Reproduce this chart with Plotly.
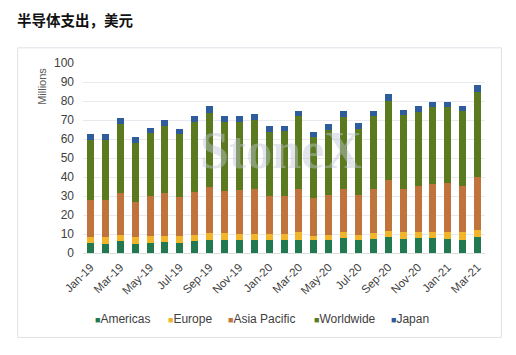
import plotly.graph_objects as go

months = ["Jan-19","Feb-19","Mar-19","Apr-19","May-19","Jun-19","Jul-19","Aug-19","Sep-19",
          "Oct-19","Nov-19","Dec-19","Jan-20","Feb-20","Mar-20","Apr-20","May-20","Jun-20",
          "Jul-20","Aug-20","Sep-20","Oct-20","Nov-20","Dec-20","Jan-21","Feb-21","Mar-21"]

americas = [5.2,4.9,6.1,4.9,5.2,5.8,5.2,6.1,7.0,7.0,6.8,7.0,6.8,6.6,7.0,6.6,6.6,7.7,
            6.6,7.3,8.4,7.3,7.7,7.7,7.3,6.8,8.4]
europe = [3.2,3.3,3.2,3.3,3.5,3.3,3.5,3.2,3.5,3.5,3.2,3.0,3.3,3.4,3.8,2.5,2.8,3.1,
          2.8,3.0,3.1,3.5,3.5,3.5,3.5,4.4,3.5]
asia_pacific = [19.7,19.9,22.5,18.9,21.4,22.4,20.8,23.0,24.5,22.0,22.9,23.6,20.1,20.2,23.1,19.9,21.0,22.9,
                21.0,23.6,27.0,23.1,23.9,25.0,25.9,24.1,28.3]
worldwide = [31.3,31.3,36.0,30.9,32.8,35.3,32.9,36.6,38.6,36.4,36.0,36.2,33.4,33.8,38.1,31.8,34.3,38.0,
             34.8,38.0,41.7,38.5,39.0,40.4,40.0,39.4,44.4]
japan = [3.0,3.0,3.0,3.2,3.0,3.0,3.0,3.0,3.8,3.0,3.0,3.1,3.0,2.8,3.0,3.0,3.1,3.0,
         3.2,3.1,3.5,2.9,3.2,3.1,3.0,2.9,4.0]

tick_labels = months[::2]
y_ticks = list(range(0, 101, 10))

series_names = ["Americas", "Europe", "Asia Pacific", "Worldwide", "Japan"]
series_values = [americas, europe, asia_pacific, worldwide, japan]
colors = ["#22784f", "#f1b52b", "#c0733a", "#5b7a1f", "#2f5d9c"]

# page body has an 8px margin; design in page pixels and convert
OFF = 8
W, H = 500, 339
ML, MR, MT, MB = 74.5, 22.5, 54.7, 93.7
PW, PH = W - ML - MR, H - MT - MB

def px_x(p):
    return (p - OFF - ML) / PW

def px_y(p):
    return (H - MB - (p - OFF)) / PH

fig = go.Figure()
for name, vals, col in zip(series_names, series_values, colors):
    fig.add_trace(go.Bar(x=months, y=vals, name=name, marker=dict(color=col, line=dict(width=0))))

fig.update_layout(
    width=W, height=H,
    barmode="stack", bargap=0.53,
    margin=dict(l=ML, r=MR, t=MT, b=MB, autoexpand=False),
    paper_bgcolor="white", plot_bgcolor="white",
    showlegend=False,
    font=dict(family="Liberation Sans, Arial, sans-serif", color="#404040", size=12),
    title=dict(text="<b>半导体支出，美元</b>", xref="container", yref="container",
               x=(17 - OFF) / W, y=1 - (21 - OFF) / H, xanchor="left", yanchor="middle",
               font=dict(family="Noto Sans CJK SC", size=14.5, color="#111111")),
    xaxis=dict(type="category", tickmode="array", tickvals=tick_labels, ticktext=tick_labels,
               tickangle=-45, ticks="", showgrid=False, showline=True, linecolor="#dcdcdc",
               linewidth=1, ticklabelstandoff=2, tickfont=dict(size=11.5, color="#404040"),
               fixedrange=True),
    yaxis=dict(range=[0, 100], tickmode="array", tickvals=y_ticks, showgrid=True,
               gridcolor="#e8e8ee", gridwidth=1, zeroline=False, showline=False, ticks="",
               ticklabelstandoff=8, tickfont=dict(size=12, color="#404040"), fixedrange=True),
)

# chart panel border
fig.add_shape(type="rect", xref="paper", yref="paper",
              x0=px_x(17), x1=px_x(502), y0=px_y(338), y1=px_y(47.5),
              line=dict(color="#dfe1e8", width=1), fillcolor="rgba(0,0,0,0)", layer="below")

# y-axis title
fig.add_annotation(text="Millions", xref="paper", yref="paper", x=px_x(42), y=px_y(86),
                   textangle=-90, showarrow=False, font=dict(size=11, color="#595959"),
                   xanchor="center", yanchor="middle")

# watermark
fig.add_annotation(text="<b>StoneX</b>", xref="paper", yref="paper", x=px_x(281), y=px_y(150),
                   showarrow=False, font=dict(family="Liberation Serif", size=52,
                                              color="rgba(190,198,212,0.45)"),
                   xanchor="center", yanchor="middle")

# legend
legend_x = [93, 166, 225.5, 312, 389]
for name, col, lx in zip(series_names, colors, legend_x):
    fig.add_annotation(
        text=f"<span style='color:{col};font-size:9px'>■</span>{name}",
        xref="paper", yref="paper", x=px_x(lx), y=px_y(320),
        showarrow=False, xanchor="left", yanchor="middle",
        font=dict(size=12, color="#404040"))

fig.write_html("out.html")
